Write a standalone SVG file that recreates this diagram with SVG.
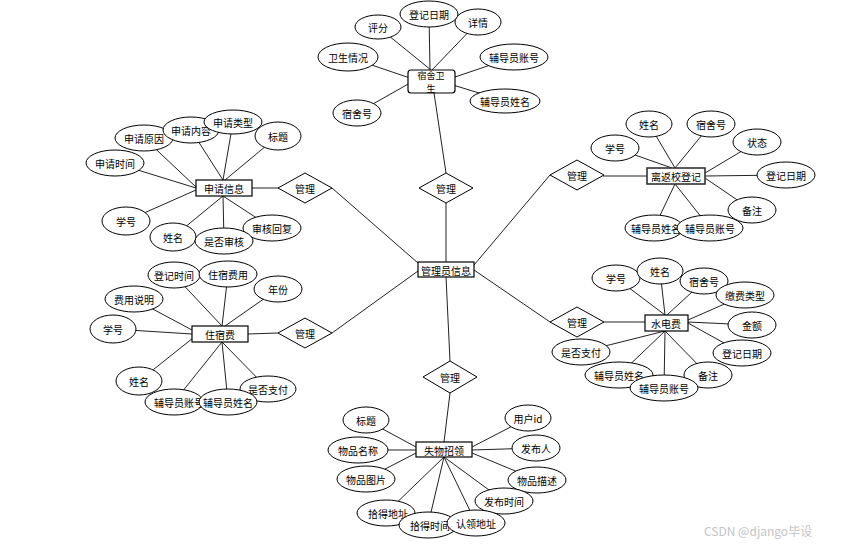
<svg xmlns="http://www.w3.org/2000/svg" width="849" height="545" viewBox="0 0 849 545">
<style>
.bg{fill:#fff}
.c line{stroke:#222;stroke-width:1}
ellipse{fill:#fff;stroke:#000;stroke-width:1}
rect.e{fill:#fff;stroke:#000;stroke-width:1.2}
polygon{fill:#fff;stroke:#000;stroke-width:1}
text{font-family:"Noto Sans CJK SC","Noto Sans",sans-serif;font-size:10px;fill:#000;text-anchor:middle;dominant-baseline:central}
text.sm{font-size:9px}
text.wm{font-size:12px;fill:#c4c4c4;text-anchor:start}
</style>
<rect class="bg" x="0" y="0" width="849" height="545"/>
<g id="connectors" class="c">
<line x1="434" y1="93" x2="446" y2="173"/>
<line x1="446" y1="203" x2="446" y2="262"/>
<line x1="332" y1="188" x2="418" y2="263"/>
<line x1="332" y1="333" x2="418" y2="271"/>
<line x1="474" y1="265" x2="550" y2="175"/>
<line x1="474" y1="270" x2="550" y2="322"/>
<line x1="446" y1="277" x2="450" y2="361"/>
<line x1="450" y1="393" x2="444" y2="442"/>
<line x1="252" y1="188" x2="278" y2="188"/>
<line x1="248" y1="334" x2="278" y2="333"/>
<line x1="603" y1="176" x2="647" y2="176"/>
<line x1="603" y1="322" x2="645" y2="322"/>
<line x1="378" y1="27" x2="431" y2="70"/>
<line x1="429" y1="14" x2="430" y2="70"/>
<line x1="478" y1="22" x2="432" y2="70"/>
<line x1="348" y1="57" x2="410" y2="78"/>
<line x1="514" y1="57" x2="455" y2="77"/>
<line x1="505" y1="101" x2="453" y2="85"/>
<line x1="357" y1="113" x2="410" y2="83"/>
<line x1="144" y1="138" x2="196" y2="187"/>
<line x1="115" y1="163" x2="196" y2="188"/>
<line x1="191" y1="130" x2="223" y2="180"/>
<line x1="233" y1="122" x2="223" y2="180"/>
<line x1="278" y1="136" x2="225" y2="180"/>
<line x1="126" y1="221" x2="196" y2="190"/>
<line x1="173" y1="237" x2="223" y2="196"/>
<line x1="224" y1="241" x2="223" y2="196"/>
<line x1="272" y1="228" x2="223" y2="196"/>
<line x1="174" y1="275" x2="222" y2="326"/>
<line x1="228" y1="274" x2="222" y2="326"/>
<line x1="278" y1="289" x2="225" y2="326"/>
<line x1="134" y1="299" x2="192" y2="330"/>
<line x1="113" y1="329" x2="192" y2="334"/>
<line x1="139" y1="381" x2="193" y2="338"/>
<line x1="174" y1="402" x2="222" y2="342"/>
<line x1="228" y1="402" x2="222" y2="342"/>
<line x1="268" y1="389" x2="222" y2="342"/>
<line x1="649" y1="124" x2="675" y2="168"/>
<line x1="711" y1="124" x2="675" y2="168"/>
<line x1="615" y1="148" x2="672" y2="168"/>
<line x1="757" y1="142" x2="705" y2="173"/>
<line x1="786" y1="175" x2="705" y2="176"/>
<line x1="752" y1="210" x2="705" y2="178"/>
<line x1="654" y1="228" x2="675" y2="184"/>
<line x1="710" y1="228" x2="675" y2="184"/>
<line x1="616" y1="278" x2="665" y2="315"/>
<line x1="660" y1="271" x2="665" y2="315"/>
<line x1="704" y1="281" x2="667" y2="315"/>
<line x1="745" y1="295" x2="688" y2="320"/>
<line x1="752" y1="325" x2="688" y2="322"/>
<line x1="742" y1="353" x2="688" y2="323"/>
<line x1="708" y1="375" x2="665" y2="331"/>
<line x1="664" y1="388" x2="665" y2="331"/>
<line x1="619" y1="375" x2="665" y2="331"/>
<line x1="581" y1="352" x2="665" y2="331"/>
<line x1="366" y1="420" x2="416" y2="447"/>
<line x1="358" y1="450" x2="416" y2="450"/>
<line x1="366" y1="479" x2="416" y2="453"/>
<line x1="528" y1="418" x2="472" y2="447"/>
<line x1="536" y1="448" x2="472" y2="450"/>
<line x1="537" y1="480" x2="472" y2="453"/>
<line x1="504" y1="501" x2="444" y2="457"/>
<line x1="386" y1="513" x2="444" y2="457"/>
<line x1="428" y1="525" x2="444" y2="457"/>
<line x1="476" y1="523" x2="444" y2="457"/>
</g>
<!-- central entity -->
<g id="admin"><rect class="e" x="418" y="262" width="56" height="15"/><text x="446" y="270">管理员信息</text></g>
<!-- relationships -->
<g id="rel-apply"><polygon points="278,188 305,173 332,188 305,203"/><text x="305" y="188">管理</text></g>
<g id="rel-fee"><polygon points="278,333 305,318 332,333 305,348"/><text x="305" y="333">管理</text></g>
<g id="rel-hyg"><polygon points="419,188 446,173 473,188 446,203"/><text x="446" y="188">管理</text></g>
<g id="rel-leave"><polygon points="550,175 577,160 604,175 577,190"/><text x="577" y="175">管理</text></g>
<g id="rel-util"><polygon points="550,322 577,307 604,322 577,337"/><text x="577" y="322">管理</text></g>
<g id="rel-lost"><polygon points="423,377 450,361 477,377 450,393"/><text x="450" y="377">管理</text></g>
<!-- 宿舍卫生 -->
<g id="hyg"><rect class="e" x="408" y="70" width="47" height="23" rx="3"/><text class="sm" x="431" y="75.2">宿舍卫</text><text class="sm" x="431" y="88.5">生</text></g>
<g id="hyg-a1"><ellipse cx="378" cy="27" rx="23" ry="12"/><text x="378" y="27">评分</text></g>
<g id="hyg-a2"><ellipse cx="478" cy="22" rx="23" ry="13"/><text x="478" y="22">详情</text></g>
<g id="hyg-a3"><ellipse cx="429" cy="14" rx="29" ry="13"/><text x="429" y="14">登记日期</text></g>
<g id="hyg-a4"><ellipse cx="348" cy="57" rx="30" ry="14"/><text x="348" y="57">卫生情况</text></g>
<g id="hyg-a5"><ellipse cx="514" cy="57" rx="34" ry="13"/><text x="514" y="57">辅导员账号</text></g>
<g id="hyg-a6"><ellipse cx="505" cy="101" rx="35" ry="12"/><text x="505" y="101">辅导员姓名</text></g>
<g id="hyg-a7"><ellipse cx="357" cy="113" rx="24" ry="13"/><text x="357" y="113">宿舍号</text></g>
<!-- 申请信息 -->
<g id="apply"><rect class="e" x="196" y="180" width="56" height="16"/><text x="224" y="188">申请信息</text></g>
<g id="apply-a1"><ellipse cx="144" cy="138" rx="29" ry="13"/><text x="144" y="138">申请原因</text></g>
<g id="apply-a2"><ellipse cx="191" cy="130" rx="28" ry="13"/><text x="191" y="130">申请内容</text></g>
<g id="apply-a3"><ellipse cx="233" cy="122" rx="29" ry="12"/><text x="233" y="122">申请类型</text></g>
<g id="apply-a4"><ellipse cx="278" cy="136" rx="23" ry="14"/><text x="278" y="136">标题</text></g>
<g id="apply-a5"><ellipse cx="115" cy="163" rx="29" ry="13"/><text x="115" y="163">申请时间</text></g>
<g id="apply-a6"><ellipse cx="126" cy="221" rx="24" ry="14"/><text x="126" y="221">学号</text></g>
<g id="apply-a7"><ellipse cx="173" cy="237" rx="23" ry="14"/><text x="173" y="237">姓名</text></g>
<g id="apply-a9"><ellipse cx="272" cy="228" rx="29" ry="13"/><text x="272" y="228">审核回复</text></g>
<g id="apply-a8"><ellipse cx="224" cy="241" rx="29" ry="13"/><text x="224" y="241">是否审核</text></g>
<!-- 住宿费 -->
<g id="fee"><rect class="e" x="192" y="326" width="56" height="16"/><text x="220" y="334">住宿费</text></g>
<g id="fee-a1"><ellipse cx="174" cy="275" rx="26" ry="13"/><text x="174" y="275">登记时间</text></g>
<g id="fee-a2"><ellipse cx="228" cy="274" rx="29" ry="13"/><text x="228" y="274">住宿费用</text></g>
<g id="fee-a3"><ellipse cx="278" cy="289" rx="24" ry="13"/><text x="278" y="289">年份</text></g>
<g id="fee-a4"><ellipse cx="134" cy="299" rx="29" ry="13"/><text x="134" y="299">费用说明</text></g>
<g id="fee-a5"><ellipse cx="113" cy="329" rx="23" ry="14"/><text x="113" y="329">学号</text></g>
<g id="fee-a6"><ellipse cx="139" cy="381" rx="23" ry="14"/><text x="139" y="381">姓名</text></g>
<g id="fee-a7"><ellipse cx="268" cy="389" rx="28" ry="13"/><text x="268" y="389">是否支付</text></g>
<g id="fee-a8"><ellipse cx="174" cy="402" rx="29" ry="13"/><text x="179" y="402">辅导员账号</text></g>
<g id="fee-a9"><ellipse cx="228" cy="402" rx="29" ry="13"/><text x="228" y="402">辅导员姓名</text></g>
<!-- 离返校登记 -->
<g id="leave"><rect class="e" x="647" y="168" width="58" height="16" style="stroke-width:1.6;stroke:#333"/><text x="676" y="176">离返校登记</text></g>
<g id="leave-a1"><ellipse cx="649" cy="124" rx="23" ry="13"/><text x="649" y="124">姓名</text></g>
<g id="leave-a2"><ellipse cx="711" cy="124" rx="24" ry="13"/><text x="711" y="124">宿舍号</text></g>
<g id="leave-a3"><ellipse cx="615" cy="148" rx="24" ry="13"/><text x="615" y="148">学号</text></g>
<g id="leave-a4"><ellipse cx="757" cy="142" rx="24" ry="13"/><text x="757" y="142">状态</text></g>
<g id="leave-a5"><ellipse cx="786" cy="175" rx="29" ry="13"/><text x="786" y="175">登记日期</text></g>
<g id="leave-a6"><ellipse cx="752" cy="210" rx="24" ry="13"/><text x="752" y="210">备注</text></g>
<g id="leave-a7"><ellipse cx="654" cy="228" rx="29" ry="13"/><text x="656" y="228">辅导员姓名</text></g>
<g id="leave-a8"><ellipse cx="710" cy="228" rx="33" ry="13"/><text x="710" y="228">辅导员账号</text></g>
<!-- 水电费 -->
<g id="util"><rect class="e" x="645" y="315" width="43" height="16"/><text x="666" y="323">水电费</text></g>
<g id="util-a1"><ellipse cx="616" cy="278" rx="24" ry="13"/><text x="616" y="278">学号</text></g>
<g id="util-a2"><ellipse cx="660" cy="271" rx="23" ry="13"/><text x="660" y="271">姓名</text></g>
<g id="util-a3"><ellipse cx="704" cy="281" rx="24" ry="13"/><text x="704" y="281">宿舍号</text></g>
<g id="util-a4"><ellipse cx="745" cy="295" rx="29" ry="13"/><text x="745" y="295">缴费类型</text></g>
<g id="util-a5"><ellipse cx="752" cy="325" rx="24" ry="13"/><text x="752" y="325">金额</text></g>
<g id="util-a6"><ellipse cx="742" cy="353" rx="29" ry="13"/><text x="742" y="353">登记日期</text></g>
<g id="util-a7"><ellipse cx="581" cy="352" rx="29" ry="13"/><text x="581" y="352">是否支付</text></g>
<g id="util-a8"><ellipse cx="708" cy="375" rx="24" ry="13"/><text x="708" y="375">备注</text></g>
<g id="util-a9"><ellipse cx="619" cy="375" rx="34" ry="13"/><text x="619" y="375">辅导员姓名</text></g>
<g id="util-a10"><ellipse cx="664" cy="388" rx="34" ry="13"/><text x="664" y="388">辅导员账号</text></g>
<!-- 失物招领 -->
<g id="lost"><rect class="e" x="416" y="442" width="56" height="15"/><text x="444" y="450">失物招领</text></g>
<g id="lost-a1"><ellipse cx="366" cy="420" rx="23" ry="13"/><text x="366" y="420">标题</text></g>
<g id="lost-a2"><ellipse cx="358" cy="450" rx="30" ry="13"/><text x="358" y="450">物品名称</text></g>
<g id="lost-a3"><ellipse cx="366" cy="479" rx="29" ry="13"/><text x="366" y="479">物品图片</text></g>
<g id="lost-a4"><ellipse cx="528" cy="418" rx="23" ry="13"/><text x="528" y="418">用户id</text></g>
<g id="lost-a5"><ellipse cx="536" cy="448" rx="24" ry="13"/><text x="536" y="448">发布人</text></g>
<g id="lost-a6"><ellipse cx="537" cy="480" rx="29" ry="13"/><text x="537" y="480">物品描述</text></g>
<g id="lost-a7"><ellipse cx="504" cy="501" rx="29" ry="13"/><text x="504" y="501">发布时间</text></g>
<g id="lost-a8"><ellipse cx="386" cy="513" rx="29" ry="13"/><text x="388" y="513">拾得地址</text></g>
<g id="lost-a9"><ellipse cx="428" cy="525" rx="29" ry="13"/><text x="430" y="525">拾得时间</text></g>
<g id="lost-a10"><ellipse cx="476" cy="523" rx="29" ry="13"/><text x="476" y="523">认领地址</text></g>
<text class="wm" x="704" y="530">CSDN @django毕设</text>
</svg>
